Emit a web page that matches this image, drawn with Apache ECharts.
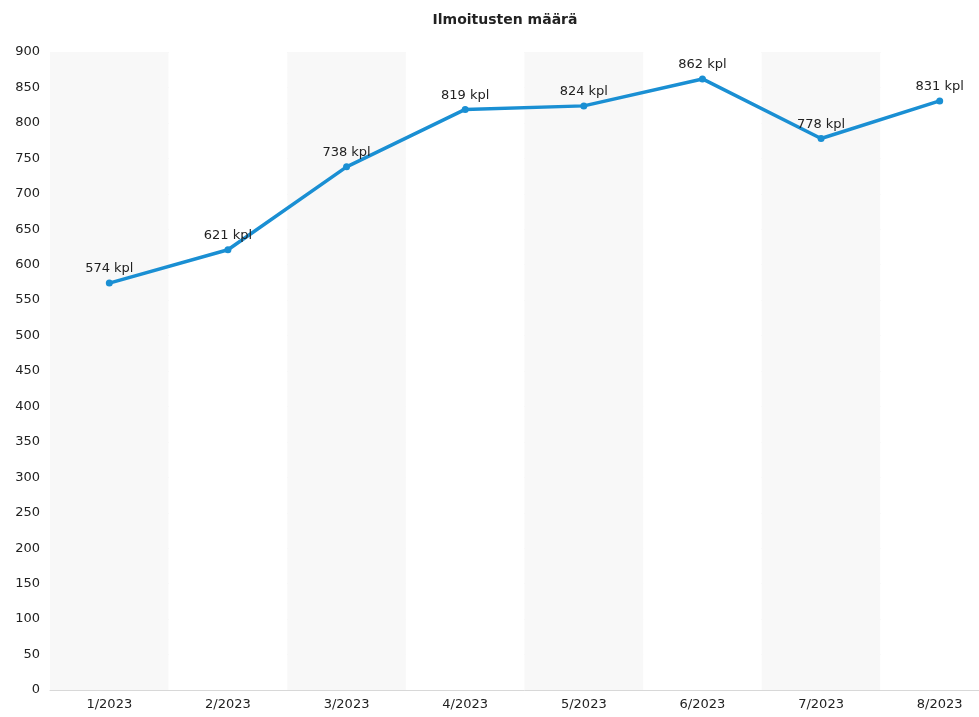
<!DOCTYPE html>
<html>
<head>
<meta charset="utf-8">
<script src="https://cdn.jsdelivr.net/npm/echarts@6/dist/echarts.min.js"></script>
<style>
  html, body { margin: 0; padding: 0; background: #fff; overflow: hidden; }
  #chart { width: 999px; height: 717px; }
</style>
</head>
<body>
<div id="chart"></div>
<script>
  const months = ['1/2023', '2/2023', '3/2023', '4/2023', '5/2023', '6/2023', '7/2023', '8/2023']
  const counts = [574, 621, 738, 819, 824, 862, 778, 831]
  const unit = 'kpl'

  const font = 'DejaVu Sans, Verdana, sans-serif'
  // the original chart is a bit wider than the window, the last band runs off the edge
  const chart = echarts.init(document.getElementById('chart'))

  chart.setOption({
    animation: false,
    textStyle: { fontFamily: font },
    title: {
      text: 'Ilmoitusten määrä',
      left: 500,
      top: 8,
      textAlign: 'center',
      textStyle: { fontFamily: font, fontSize: 14, fontWeight: 'bold', color: '#222' }
    },
    grid: {
      left: 50,
      right: 0,
      top: 52,
      bottom: 27,
      containLabel: false
    },
    xAxis: {
      type: 'category',
      data: months,
      boundaryGap: true,
      axisLine: { lineStyle: { color: '#d8d8d8' } },
      axisTick: { alignWithLabel: true, length: 5, lineStyle: { color: '#d8d8d8' } },
      axisLabel: { color: '#222', fontSize: 13, margin: 8, fontFamily: font },
      splitArea: {
        show: true,
        areaStyle: { color: ['#f8f8f8', '#ffffff'] }
      }
    },
    yAxis: {
      type: 'value',
      min: 0,
      max: 900,
      interval: 50,
      axisLine: { show: false },
      axisTick: { show: false },
      axisLabel: { color: '#222', fontSize: 13, margin: 10, fontFamily: font },
      splitLine: { lineStyle: { color: '#ececec' } }
    },
    series: [
      {
        type: 'line',
        data: counts,
        symbol: 'circle',
        symbolSize: 7,
        lineStyle: { color: '#1a8fd3', width: 3.5 },
        itemStyle: { color: '#1a8fd3' },
        label: {
          show: true,
          position: 'top',
          distance: 4,
          color: '#222',
          fontSize: 13,
          fontFamily: font,
          formatter: p => p.value + ' ' + unit
        }
      }
    ]
  })
</script>
</body>
</html>
